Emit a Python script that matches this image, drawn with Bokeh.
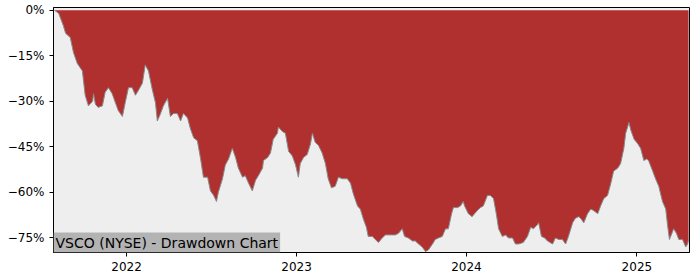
import pandas as pd
from bokeh.plotting import figure
from bokeh.models import (Range1d, FixedTicker, CustomJSTickFormatter, Label,
                          ColumnDataSource)
from bokeh.embed import file_html
from bokeh.resources import INLINE

# ---- data ----
dates = [
    "2021-07-30", "2021-08-08", "2021-08-18", "2021-08-23", "2021-09-02", "2021-09-09",
    "2021-09-17", "2021-09-28", "2021-10-04", "2021-10-11", "2021-10-20", "2021-10-22",
    "2021-10-26", "2021-11-01", "2021-11-10", "2021-11-16", "2021-11-23", "2021-12-01",
    "2021-12-08", "2021-12-14", "2021-12-23", "2021-12-29",
    "2022-01-05", "2022-01-13", "2022-01-20", "2022-01-26", "2022-02-04", "2022-02-10",
    "2022-02-17", "2022-02-25", "2022-03-04", "2022-03-08", "2022-03-15", "2022-03-21",
    "2022-03-30", "2022-04-05", "2022-04-12", "2022-04-20", "2022-04-27", "2022-05-03",
    "2022-05-12", "2022-05-18", "2022-05-25", "2022-06-02", "2022-06-09", "2022-06-15",
    "2022-06-24", "2022-06-30", "2022-07-07", "2022-07-13", "2022-07-17", "2022-07-26",
    "2022-08-01", "2022-08-08", "2022-08-16", "2022-08-23", "2022-08-29", "2022-09-07",
    "2022-09-13", "2022-09-20", "2022-09-28", "2022-10-05", "2022-10-11", "2022-10-20",
    "2022-10-22", "2022-10-31", "2022-11-06", "2022-11-12", "2022-11-21", "2022-11-23",
    "2022-12-02", "2022-12-08", "2022-12-15", "2022-12-23", "2022-12-30",
    "2023-01-05", "2023-01-09", "2023-01-16", "2023-01-24", "2023-01-31", "2023-02-04",
    "2023-02-10", "2023-02-17", "2023-02-25", "2023-03-04", "2023-03-10", "2023-03-17",
    "2023-03-25", "2023-04-01", "2023-04-09", "2023-04-20", "2023-04-27", "2023-05-03",
    "2023-05-12", "2023-05-18", "2023-05-25", "2023-05-31", "2023-06-04", "2023-06-13",
    "2023-06-19", "2023-06-26", "2023-07-04", "2023-07-11", "2023-07-17", "2023-07-26",
    "2023-08-01", "2023-08-08", "2023-08-16", "2023-08-21", "2023-08-29", "2023-09-07",
    "2023-09-13", "2023-09-20", "2023-09-28", "2023-10-05", "2023-10-11", "2023-10-20",
    "2023-10-26", "2023-11-02", "2023-11-10", "2023-11-17", "2023-11-23", "2023-11-30",
    "2023-12-04", "2023-12-13", "2023-12-19", "2023-12-25", "2023-12-28",
    "2024-01-05", "2024-01-13", "2024-01-24", "2024-01-31", "2024-02-06", "2024-02-15",
    "2024-02-21", "2024-02-28", "2024-03-05", "2024-03-10", "2024-03-18", "2024-03-25",
    "2024-03-31", "2024-04-09", "2024-04-15", "2024-04-22", "2024-05-02", "2024-05-11",
    "2024-05-18", "2024-05-24", "2024-06-02", "2024-06-04", "2024-06-10", "2024-06-17",
    "2024-06-23", "2024-07-04", "2024-07-10", "2024-07-17", "2024-07-25", "2024-08-01",
    "2024-08-07", "2024-08-16", "2024-08-22", "2024-08-29", "2024-09-02", "2024-09-09",
    "2024-09-17", "2024-09-24", "2024-09-30", "2024-10-09", "2024-10-15", "2024-10-22",
    "2024-10-30", "2024-11-06", "2024-11-12", "2024-11-21", "2024-11-27", "2024-12-04",
    "2024-12-08", "2024-12-15", "2024-12-19", "2024-12-26",
    "2025-01-03", "2025-01-09", "2025-01-16", "2025-01-22", "2025-01-26", "2025-02-04",
    "2025-02-10", "2025-02-17", "2025-02-25", "2025-03-04", "2025-03-08", "2025-03-12",
    "2025-03-21", "2025-03-27", "2025-04-01", "2025-04-09", "2025-04-16", "2025-04-20",
    "2025-04-22",
]
drawdown = [
    0.0, -1.0, -5.0, -7.6, -9.0, -14.0,
    -17.5, -20.0, -28.0, -31.5, -30.0, -27.5,
    -31.0, -32.0, -31.5, -27.0, -25.5, -27.5,
    -30.5, -33.0, -35.0, -30.5,
    -25.5, -25.5, -28.0, -26.5, -24.0, -18.0,
    -20.0, -26.0, -30.5, -36.5, -34.0, -31.5,
    -29.0, -35.0, -34.0, -34.0, -36.5, -34.0,
    -35.5, -39.0, -42.0, -43.0, -49.0, -55.0,
    -55.0, -59.5, -61.0, -63.0, -60.0, -55.5,
    -51.0, -49.0, -45.5, -48.5, -52.0, -55.0,
    -54.5, -57.0, -59.5, -56.0, -54.5, -52.0,
    -49.5, -48.5, -47.0, -42.5, -40.5, -38.5,
    -40.0, -40.5, -46.5, -48.0, -51.0,
    -55.0, -50.5, -48.5, -47.5, -44.0, -40.5,
    -43.5, -44.5, -47.0, -50.5, -55.5, -58.5,
    -58.0, -55.0, -55.5, -55.5, -57.0, -60.5,
    -64.5, -65.5, -69.0, -71.5, -74.5, -74.5,
    -75.5, -76.5, -75.0, -74.0, -74.0, -74.0,
    -74.0, -73.5, -72.0, -74.5, -75.0, -76.0,
    -76.0, -77.0, -78.0, -79.5, -79.0, -77.0,
    -75.5, -75.0, -74.5, -72.0, -72.0, -67.0,
    -65.0, -65.0, -64.5, -63.0, -64.5,
    -67.0, -68.0, -66.0, -65.0, -64.5, -61.0,
    -61.0, -62.0, -67.0, -72.0, -74.5, -74.0,
    -75.0, -75.0, -77.0, -77.0, -76.5, -74.5,
    -71.5, -72.0, -70.5, -70.0, -74.5, -75.0,
    -76.0, -77.0, -75.0, -75.5, -75.5, -77.0,
    -74.5, -70.0, -68.5, -68.0, -68.5, -70.0,
    -67.0, -65.5, -66.0, -67.0, -64.5, -62.0,
    -61.0, -57.0, -53.0, -52.0, -50.5, -45.5,
    -40.5, -37.0, -39.5, -42.5,
    -44.0, -45.5, -49.5, -49.0, -49.5, -53.0,
    -55.5, -58.0, -63.0, -65.5, -71.0, -75.5,
    -72.0, -73.5, -75.5, -75.5, -78.0, -77.0,
    -75.5,
]
y_ticks = [0, -15, -30, -45, -60, -75]
x_tick_years = [2022, 2023, 2024, 2025]
chart_label = "VSCO (NYSE) - Drawdown Chart"

# ---- build ----
x = pd.to_datetime(dates)
src = ColumnDataSource(dict(x=x, dd=drawdown, zero=[0.0] * len(drawdown)))

x_start = x[0] - pd.Timedelta(days=2)
x_end = x[-1] + pd.Timedelta(days=2)

p = figure(width=700, height=280, x_axis_type="datetime", output_backend="svg",
           toolbar_location=None,
           x_range=Range1d(x_start, x_end), y_range=Range1d(-79.8, 0.9),
           min_border_left=53, min_border_right=11, min_border_top=7,
           min_border_bottom=28)

p.background_fill_color = "#EEEEEE"
p.border_fill_color = "white"
p.outline_line_color = "black"
p.outline_line_width = 1
p.xgrid.visible = False
p.ygrid.visible = False

p.varea(x="x", y1="dd", y2="zero", source=src, fill_color="#B03030")
p.line(x="x", y="dd", source=src, line_color="#8A8A8A", line_width=1)

p.yaxis.ticker = FixedTicker(ticks=y_ticks)
p.yaxis.formatter = CustomJSTickFormatter(
    code="return (tick < 0 ? '\u2212' : '') + Math.abs(tick).toFixed(0) + '%';")
p.xaxis.ticker = FixedTicker(
    ticks=[pd.Timestamp(f"{yr}-01-01").timestamp() * 1000 for yr in x_tick_years])
p.xaxis.formatter = CustomJSTickFormatter(
    code="return String(new Date(tick).getUTCFullYear());")

for ax in (p.xaxis[0], p.yaxis[0]):
    ax.axis_line_color = "black"
    ax.major_tick_line_color = "black"
    ax.major_tick_out = 4
    ax.major_tick_in = 0
    ax.minor_tick_out = 0
    ax.minor_tick_in = 0
    ax.major_label_text_font = "DejaVu Sans"
    ax.major_label_text_font_size = "12px"
    ax.major_label_text_color = "black"
    ax.major_label_standoff = 5

lbl = Label(x=x_start.timestamp() * 1000, y=-79.8, text=chart_label,
            text_font="DejaVu Sans", text_font_size="14px", text_color="black",
            text_baseline="bottom", text_align="left",
            background_fill_color="#B3B3B3", padding=2)
p.add_layout(lbl)

open("out.html", "w").write(file_html(p, INLINE))
